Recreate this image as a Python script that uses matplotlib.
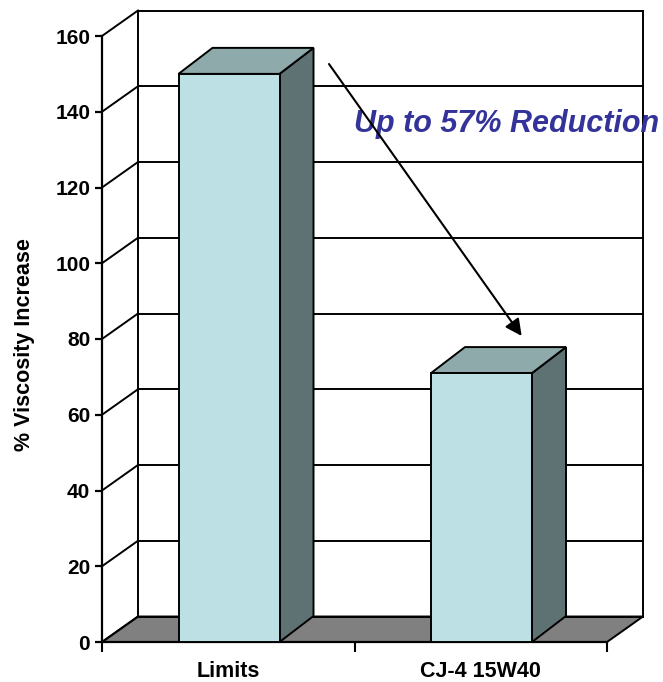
import matplotlib.pyplot as plt
from matplotlib.patches import Polygon
import numpy as np

plt.rcParams['font.family'] = ['Liberation Sans', 'DejaVu Sans']
plt.rcParams['font.weight'] = 'bold'

# Data
categories = ['Limits', 'CJ-4 15W40']
viscosity_increase = [150, 71]
y_ticks = [0, 20, 40, 60, 80, 100, 120, 140, 160]

fig = plt.figure(figsize=(6.63, 6.82), dpi=100)
ax = fig.add_axes([102 / 663, 40 / 682, 505 / 663, 606 / 682])
ax.set_xlim(0, len(categories))
ax.set_ylim(0, 160)

# depth of the 3D box, converted from pixels to data units
px_x = 505 / len(categories)
px_y = 606 / 160
wall_dx, wall_dy = 36 / px_x, 25.5 / px_y
bar_dx, bar_dy = 34 / px_x, 26 / px_y
n = len(categories)
lw = 1.4

# floor
floor = Polygon([(0, 0), (n, 0), (n + wall_dx, wall_dy), (wall_dx, wall_dy)],
                closed=True, facecolor='#808080', edgecolor='black', lw=lw,
                clip_on=False, zorder=1)
ax.add_patch(floor)

# back wall grid and left-side diagonals
for v in y_ticks:
    ax.plot([wall_dx, n + wall_dx], [v + wall_dy, v + wall_dy],
            color='black', lw=lw, clip_on=False, zorder=2)
    ax.plot([0, wall_dx], [v, v + wall_dy], color='black', lw=lw,
            clip_on=False, zorder=2)
for xv in [wall_dx, n + wall_dx]:
    ax.plot([xv, xv], [wall_dy, 160 + wall_dy], color='black', lw=lw,
            clip_on=False, zorder=2)

# 3D bars
width = 0.40
for i, v in enumerate(viscosity_increase):
    x0 = i + 0.5 - width / 2 + 0.003
    front = Polygon([(x0, 0), (x0 + width, 0), (x0 + width, v), (x0, v)],
                    facecolor='#BCE0E3', edgecolor='black', lw=lw,
                    clip_on=False, zorder=3)
    top = Polygon([(x0, v), (x0 + width, v), (x0 + width + bar_dx, v + bar_dy),
                   (x0 + bar_dx, v + bar_dy)],
                  facecolor='#8FAAAB', edgecolor='black', lw=lw,
                  clip_on=False, zorder=3)
    side = Polygon([(x0 + width, 0), (x0 + width + bar_dx, bar_dy),
                    (x0 + width + bar_dx, v + bar_dy), (x0 + width, v)],
                   facecolor='#5F7273', edgecolor='black', lw=lw,
                   clip_on=False, zorder=3)
    for p in (side, top, front):
        ax.add_patch(p)

# arrow and note
ax.annotate('', xy=(1.662, 80.8), xytext=(0.899, 152.6),
            arrowprops=dict(arrowstyle='-|>', color='black', lw=1.5,
                            mutation_scale=25, shrinkA=0, shrinkB=0),
            zorder=6, annotation_clip=False)
ax.text(1.0, 134.6, 'Up to 57% Reduction', color='#333399', fontsize=22,
        fontweight='bold', fontstyle='italic', va='baseline', ha='left',
        zorder=5, clip_on=False)

# axes styling
for s in ['top', 'right']:
    ax.spines[s].set_visible(False)
ax.spines['left'].set_linewidth(1.6)
ax.spines['bottom'].set_linewidth(1.6)
ax.spines['left'].set_zorder(4)
ax.set_yticks(y_ticks)
ax.tick_params(axis='y', direction='out', length=5, width=1.6, pad=3.5,
               labelsize=15)
ax.set_xticks(np.arange(n + 1))
ax.set_xticklabels([])
ax.tick_params(axis='x', which='major', direction='out', length=7.5, width=1.5)
ax.set_xticks(np.arange(n) + 0.5, minor=True)
ax.set_xticklabels(categories, minor=True, fontsize=15.5, fontweight='bold')
ax.tick_params(axis='x', which='minor', length=0, pad=13.5)
for lbl in ax.get_yticklabels():
    lbl.set_fontweight('bold')

fig.text(25 / 663, 1 - 345 / 682, '% Viscosity Increase', rotation=90,
         fontsize=15.5, fontweight='bold', ha='center', va='center')

fig.savefig('out.png', dpi=100)
